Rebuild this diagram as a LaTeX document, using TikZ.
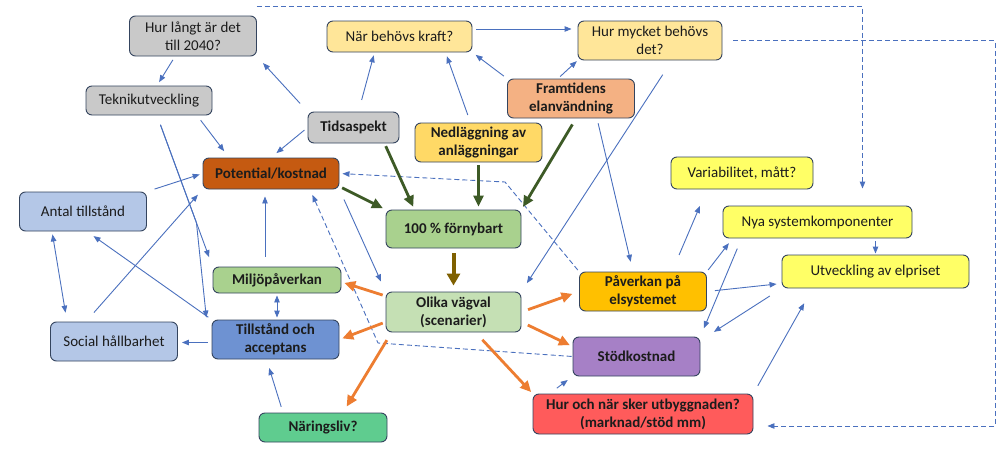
\documentclass[tikz,border=0pt]{standalone}
\usepackage{fontspec}
\setmainfont{Carlito}
\usepackage{tikz}
\usetikzlibrary{arrows.meta,calc}
\definecolor{EdgeSlate}{HTML}{34445E}
\definecolor{TextDark}{HTML}{1C1C1C}
\definecolor{LineBlue}{HTML}{4A70BE}
\definecolor{FlowOrange}{HTML}{ED7D31}
\definecolor{FlowGreen}{HTML}{3D5A26}
\definecolor{FlowOlive}{HTML}{7F6000}
\definecolor{BoxGray}{HTML}{C9C9C9}
\definecolor{BoxSand}{HTML}{FFE699}
\definecolor{BoxSalmon}{HTML}{F4B183}
\definecolor{BoxGold}{HTML}{FFD966}
\definecolor{BoxRust}{HTML}{C55A11}
\definecolor{BoxSky}{HTML}{B4C7E7}
\definecolor{BoxLeaf}{HTML}{A9D18E}
\definecolor{BoxMint}{HTML}{C5E0B4}
\definecolor{BoxLemon}{HTML}{FFFF66}
\definecolor{BoxAmber}{HTML}{FFC000}
\definecolor{BoxBlue}{HTML}{6E92D2}
\definecolor{BoxPlum}{HTML}{A680C6}
\definecolor{BoxRed}{HTML}{FF5B5B}
\definecolor{BoxJade}{HTML}{5FCC8F}
\tikzset{
  FB/.style={rectangle,rounded corners=6pt,draw=EdgeSlate,line width=0.9pt,
             text=TextDark,align=center,inner sep=2pt},
  bf/.style={font=\fontsize{15}{18}\selectfont\bfseries},
  std/.style={minimum width=127pt,minimum height=39pt},
  ln/.style={-{Triangle[length=7pt,width=5.5pt]},line width=0.9pt,LineBlue,
             shorten <=4pt,shorten >=4pt},
  lnb/.style={ln,{Triangle[length=7pt,width=5.5pt]}-{Triangle[length=7pt,width=5.5pt]}},
  lnd/.style={ln,dash pattern=on 5pt off 3pt},
  thk/.style={-{Triangle[length=11pt,width=10pt]},line width=2.8pt,
              shorten <=3pt,shorten >=3pt},
  nGr/.style={FB,fill=BoxGray},
  nSd/.style={FB,fill=BoxSand},
  nSa/.style={FB,fill=BoxSalmon},
  nGo/.style={FB,fill=BoxGold},
  nRu/.style={FB,fill=BoxRust},
  nSk/.style={FB,fill=BoxSky},
  nLf/.style={FB,fill=BoxLeaf},
  nMi/.style={FB,fill=BoxMint},
  nLe/.style={FB,fill=BoxLemon},
  nAm/.style={FB,fill=BoxAmber},
  nBl/.style={FB,fill=BoxBlue},
  nPl/.style={FB,fill=BoxPlum},
  nRd/.style={FB,fill=BoxRed},
  nJd/.style={FB,fill=BoxJade}
}
\begin{document}
\begin{tikzpicture}[x=1pt,y=-1pt,
  every node/.style={font=\fontsize{15}{18}\selectfont}]
  \useasboundingbox[fill=white] (0,0) rectangle (1005,463);

  \node[nGr,std,minimum height=40pt] (hurl) at (193,36) {Hur långt är det\\till 2040?};
  \node[nGr,minimum width=126pt,minimum height=29pt] (tek) at (149,100.5) {Teknikutveckling};
  \node[nSd,minimum width=145pt,minimum height=31pt] (nar) at (399.5,36.5) {När behövs kraft?};
  \node[nSd,minimum width=144pt,minimum height=39pt] (hurm) at (650,40.5) {Hur mycket behövs\\det?};
  \node[nSa,bf,std] (fram) at (571,98.5) {Framtidens\\elanvändning};
  \node[nGr,bf,minimum width=91pt,minimum height=31pt] (tid) at (353.5,127.5) {Tidsaspekt};
  \node[nGo,bf,std] (ned) at (478.5,142.5) {Nedläggning av\\anläggningar};
  \node[nRu,bf,minimum width=136pt,minimum height=31pt] (pot) at (271,173.5) {Potential/kostnad};
  \node[nSk,std] (antal) at (83,211.5) {Antal tillstånd};
  \node[nLf,bf,minimum width=135pt,minimum height=38pt] (fny) at (453.5,229) {100 \% förnybart};
  \node[nLf,bf,minimum width=128pt,minimum height=26pt] (milj) at (277,280) {Miljöpåverkan};
  \node[nLe,minimum width=142pt,minimum height=32pt] (var) at (742,173) {Variabilitet, mått?};
  \node[nLe,minimum width=189pt,minimum height=32pt] (nya) at (817.5,222) {Nya systemkomponenter};
  \node[nLe,minimum width=187pt,minimum height=33pt] (utv) at (875.5,271.5) {Utveckling av elpriset};
  \node[nAm,bf,std] (pav) at (643,291.5) {Påverkan på\\elsystemet};
  \node[nMi,bf,minimum width=135pt,minimum height=40pt] (olika) at (453.5,312) {Olika vägval\\(scenarier)};
  \node[nSk,std] (soc) at (114,341.5) {Social hållbarhet};
  \node[nBl,bf,std] (till) at (275.5,339.5) {Tillstånd och\\acceptans};
  \node[nPl,bf,std] (stod) at (636.5,356.5) {Stödkostnad};
  \node[nRd,bf,minimum width=220pt,minimum height=40pt] (hurn) at (643,414) {Hur och när sker utbyggnaden?\\(marknad/stöd mm)};
  \node[nJd,bf,minimum width=128pt,minimum height=29pt] (narl) at (323,427.5) {Näringsliv?};

  \coordinate (tkb) at ($([xshift=8pt]tek.south)!0.71!(milj.north west)$);
  \coordinate (dk1) at (505,182);
  \coordinate (dk2) at (378,343);
  \coordinate (dk3) at (995,426);

  \draw[ln] ([xshift=-18pt]hurl.south) -- ([xshift=8pt]tek.north);
  \draw[ln,shorten <=11pt,shorten >=9pt] (tid.north west) -- (hurl.south east);
  \draw[ln,shorten <=12pt,shorten >=3pt] ([xshift=5pt]tid.north) -- ([xshift=-25pt]nar.south);
  \draw[ln,shorten <=6pt,shorten >=8pt] ([xshift=48pt]tek.south) -- ([xshift=-42pt]pot.north);
  \draw[ln,shorten >=7pt] (tid.west) -- (pot.north);
  \draw[ln,shorten <=8pt] ([xshift=-8pt]ned.north) -- ([xshift=46pt]nar.south);
  \draw[ln] (fram.north west) -- (nar.south east);
  \draw[ln,shorten <=3pt,shorten >=1pt] ([xshift=-13pt]fram.north) -- (hurm.south west);
  \draw[ln,shorten >=6pt] ([yshift=7.5pt]nar.east) -- ([yshift=7.5pt]nar.east -| hurm.west);
  \draw[ln,shorten <=17pt,shorten >=10pt] ([xshift=22pt]hurm.south) -- (olika.north east);
  \draw[ln,shorten <=5pt,shorten >=10pt] ([xshift=26pt]fram.south) -- ([xshift=-10pt]pav.north);
  \draw[ln,shorten <=10pt,shorten >=10pt] ([xshift=8pt]tek.south) -- (milj.north west);
  \draw[ln,shorten <=10pt,shorten >=2pt] ([xshift=8pt]tek.south) -- (tkb) -- ([xshift=-5pt]till.north west);
  \draw[ln,shorten <=8pt,shorten >=3pt] (antal.north east) -- (pot.west);
  \draw[ln,shorten <=12pt,shorten >=7pt] ([xshift=-28pt]soc.north) -- (pot.south west);
  \draw[lnb,shorten <=3pt,shorten >=9pt] ([xshift=-31pt]antal.south) -- ([xshift=-47pt]soc.north);
  \draw[ln,shorten >=8pt] (till.north west) -- ([xshift=4pt]antal.south);
  \draw[ln] ([yshift=-3pt]till.west) -- ([yshift=-3pt]till.west -| soc.east);
  \draw[ln,shorten <=10pt,shorten >=7pt] ([xshift=-12pt]milj.north) -- ([xshift=-12pt]milj.north |- pot.south);
  \draw[lnb,shorten <=2pt,shorten >=2pt] (milj.south) -- (milj.south |- till.north);
  \draw[ln,shorten <=6pt,shorten >=9pt] ([xshift=-40pt]narl.north) -- ([xshift=-9pt]till.south);
  \draw[ln,shorten <=11pt,shorten >=11pt] (pot.south east) -- (olika.north west);
  \draw[ln,shorten <=9pt,shorten >=6pt] ([xshift=17pt]hurn.north west) -- (stod.south west);
  \draw[ln,shorten <=9pt,shorten >=17pt] (hurn.north east) -- ([xshift=31pt]utv.south west);
  \draw[ln,shorten <=18pt,shorten >=18pt] ([xshift=29pt]pav.north) -- ([xshift=-35pt]var.south);
  \draw[ln,shorten <=2pt,shorten >=6pt] (pav.north east) -- ([xshift=10pt]nya.south west);
  \draw[ln,shorten <=8pt,shorten >=5pt] (pav.east) -- ([yshift=-12pt]utv.west);
  \draw[ln,shorten <=11pt,shorten >=9pt] ([xshift=19pt]nya.south west) -- (stod.north east);
  \draw[ln,shorten <=14pt,shorten >=16pt] (utv.south west) -- ([yshift=16pt]stod.east);
  \draw[ln,shorten <=3pt,shorten >=1pt] (utv.north |- nya.south) -- (utv.north);

  \draw[lnd,shorten <=2pt,shorten >=3pt] (pav.north west) -- (dk1) -- (pot.east);
  \draw[lnd,shorten <=1pt,shorten >=6pt] (stod.west) -- (dk2) -- ([xshift=39pt]pot.south);
  \draw[lnd,shorten <=0pt,shorten >=17pt] ([yshift=9pt]hurl.north east) -| ([xshift=45pt]nya.north);
  \draw[lnd,shorten <=11pt,shorten >=14pt] (hurm.east) -| (dk3) -- ([yshift=-12pt]hurn.east);

  \draw[thk,FlowOrange] ([yshift=16pt]olika.west) -- ([yshift=-2pt]milj.east);
  \draw[thk,FlowOrange] ([yshift=-10pt]olika.west) -- (till.east);
  \draw[thk,FlowOrange,shorten <=9pt,shorten >=7pt] ([xshift=6pt]olika.south west) -- ([xshift=20pt]narl.north);
  \draw[thk,FlowOrange,shorten <=7pt,shorten >=7pt] (olika.east) -- (pav.west);
  \draw[thk,FlowOrange,shorten <=7pt] ([yshift=-10pt]olika.east) -- ([yshift=10pt]stod.west);
  \draw[thk,FlowOrange,shorten <=10pt,shorten >=2pt] ([xshift=22pt]olika.south) -- (hurn.north west);

  \draw[thk,FlowGreen] ([yshift=3pt]pot.south east) -- (fny.north west);
  \draw[thk,FlowGreen] ([xshift=31pt]tid.south) -- ([xshift=-39pt]fny.north);
  \draw[thk,FlowGreen] (ned.south) -- (ned.south |- fny.north);
  \draw[thk,FlowGreen,shorten <=7pt] ([xshift=5pt]fram.south) -- (fny.north east);
  \draw[thk,FlowOlive,line width=4pt,-{Triangle[length=12pt,width=13pt]},shorten <=5pt,shorten >=6pt] (fny.south) -- (olika.north);
\end{tikzpicture}
\end{document}
